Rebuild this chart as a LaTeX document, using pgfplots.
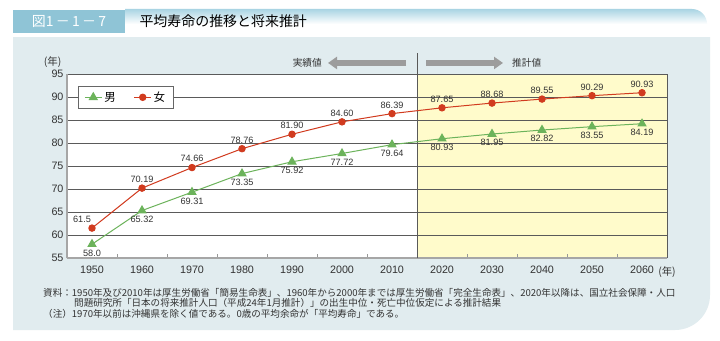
\documentclass[border=0pt]{standalone}
\usepackage{fontspec}
\setmainfont{Liberation Sans}
\newfontfamily\jp{Noto Sans CJK JP}
\usepackage{pgfplots}
\pgfplotsset{compat=1.18}
\usepackage{pgfplotstable}
\usetikzlibrary{arrows.meta,calc}

\definecolor{panel}{HTML}{E1ECEF}
\definecolor{yel}{HTML}{FFFBCB}
\definecolor{tbox}{HTML}{8FC4D6}
\definecolor{tbar}{HTML}{A9D4E3}
\definecolor{mgreen}{HTML}{6CB35B}
\definecolor{fred}{HTML}{D13B1F}
\definecolor{gridc}{HTML}{5A5A5A}
\definecolor{arr}{HTML}{9C9C9C}
\definecolor{txt}{HTML}{333333}

\pgfplotstableread{
year male mlab female flab
1950 58.00 58.0 61.50 61.5
1960 65.32 65.32 70.19 70.19
1970 69.31 69.31 74.66 74.66
1980 73.35 73.35 78.76 78.76
1990 75.92 75.92 81.90 81.90
2000 77.72 77.72 84.60 84.60
2010 79.64 79.64 86.39 86.39
2020 80.93 80.93 87.65 87.65
2030 81.95 81.95 88.68 88.68
2040 82.82 82.82 89.55 89.55
2050 83.55 83.55 90.29 90.29
2060 84.19 84.19 90.93 90.93
}\lifedata

\begin{document}
\begin{tikzpicture}[x=1bp,y=1bp]
\path[use as bounding box] (0,0) rectangle (720,340);
\fill[white] (0,0) rectangle (720,340);
% panel
\fill[panel] (13,10) -- (13,303) -- (710,303) -- (710,45) arc[start angle=0,end angle=-90,radius=35] -- cycle;
% title bar
\shade[top color=tbar, bottom color=white] (125,316) -- (125,331) -- (692,331) arc[start angle=90,end angle=0,radius=15] -- cycle;
\fill[tbox] (13,307) rectangle (125,330);
\node[white, font=\jp\fontsize{14}{16}\selectfont] at (69,318.5) {図1\,－\,1\,－\,7};
\node[anchor=west, font=\jp\fontsize{14}{16}\selectfont] at (136,318.5) {平均寿命の推移と将来推計};
% footnotes
\node[anchor=base west, inner sep=0, font=\jp\fontsize{9.6}{12}\selectfont, text=txt] at (43,44) {資料：1950年及び2010年は厚生労働省「簡易生命表」、1960年から2000年までは厚生労働省「完全生命表」、2020年以降は、国立社会保障・人口};
\node[anchor=base west, inner sep=0, font=\jp\fontsize{9.6}{12}\selectfont, text=txt] at (74,33.5) {問題研究所「日本の将来推計人口（平成24年1月推計）」の出生中位・死亡中位仮定による推計結果};
\node[anchor=base west, inner sep=0, font=\jp\fontsize{9.6}{12}\selectfont, text=txt] at (43,23) {（注）1970年以前は沖縄県を除く値である。0歳の平均余命が「平均寿命」である。};

\begin{axis}[
  at={(67bp,82bp)}, anchor=south west,
  width=600bp, height=184bp, scale only axis,
  xmin=1945, xmax=2065, ymin=55, ymax=95,
  clip=false,
  axis x line*=bottom, axis y line*=left,
  axis line style={draw=black!35, line width=1.2bp, -},
  xtick={1950,1960,...,2060},
  minor xtick={1955,1965,...,2055},
  major tick length=0pt, minor tick length=4bp,
  minor tick style={draw=black!40, line width=0.8bp},
  tick align=inside,
  ytick={55,60,...,95},
  ymajorgrids,
  major grid style={draw=gridc, line width=0.7bp},
  extra x ticks={2065}, extra x tick labels={},
  extra x tick style={grid=major, major tick length=0pt},
  /pgf/number format/assume math mode=true,
  /pgf/number format/1000 sep={},
  tick label style={font=\fontsize{10.8}{12}\selectfont, text=txt},
  xticklabel style={yshift=-4bp},
  axis background/.style={fill=white, path picture={
     \fill[yel] ($(path picture bounding box.south west)!0.583333!(path picture bounding box.south east)$) rectangle (path picture bounding box.north east);}},
  legend style={at={(rel axis cs:0.0183,0.935)}, anchor=north west,
     draw=black!60, fill=white, line width=0.6bp,
     font=\jp\fontsize{11.5}{13}\selectfont, inner xsep=6bp, inner ysep=3.5bp,
     /tikz/every even column/.append style={column sep=16bp}},
  legend columns=2,
]
% divider and arrows
\draw[black!65, line width=0.8bp] (axis cs:2015,55) -- (axis cs:2015,99.6);
\draw[arr, line width=6bp, -{Triangle[length=9bp,width=12bp]}] (axis cs:2012.8,97.4) -- (axis cs:1997.2,97.4);
\draw[arr, line width=6bp, -{Triangle[length=9bp,width=12bp]}] (axis cs:2016.8,97.4) -- (axis cs:2032.2,97.4);
\node[anchor=east, inner sep=0, font=\jp\fontsize{9.7}{11}\selectfont, text=txt] at (axis cs:1996.0,97.4) {実績値};
\node[anchor=west, inner sep=0, font=\jp\fontsize{9.7}{11}\selectfont, text=txt] at (axis cs:2034.0,97.4) {推計値};
\node[font=\jp\fontsize{10.5}{12}\selectfont, text=txt] at (rel axis cs:-0.024,1.065) {(年)};
\node[font=\jp\fontsize{10.5}{12}\selectfont, text=txt] at (rel axis cs:1.0,-0.075) {(年)};

\addplot[color=mgreen, line width=1bp, mark=triangle*, mark size=4.5bp,
  mark options={fill=mgreen, draw=mgreen},
  nodes near coords, point meta=explicit symbolic,
  every node near coord/.append style={anchor=north, yshift=-4bp, inner sep=1bp,
     font=\fontsize{9.2}{11}\selectfont, text=txt}]
  table[x=year, y=male, meta=mlab] {\lifedata};
\addlegendentry{男}
\addplot[color=fred, line width=1bp, mark=*, mark size=3.2bp,
  mark options={fill=fred, draw=fred},
  nodes near coords, point meta=explicit symbolic,
  coordinate style/.condition={x<1955}{xshift=-10bp},
  every node near coord/.append style={anchor=south, yshift=4bp, inner sep=1bp,
     font=\fontsize{9.2}{11}\selectfont, text=txt}]
  table[x=year, y=female, meta=flab] {\lifedata};
\addlegendentry{女}
\end{axis}
\end{tikzpicture}
\end{document}
